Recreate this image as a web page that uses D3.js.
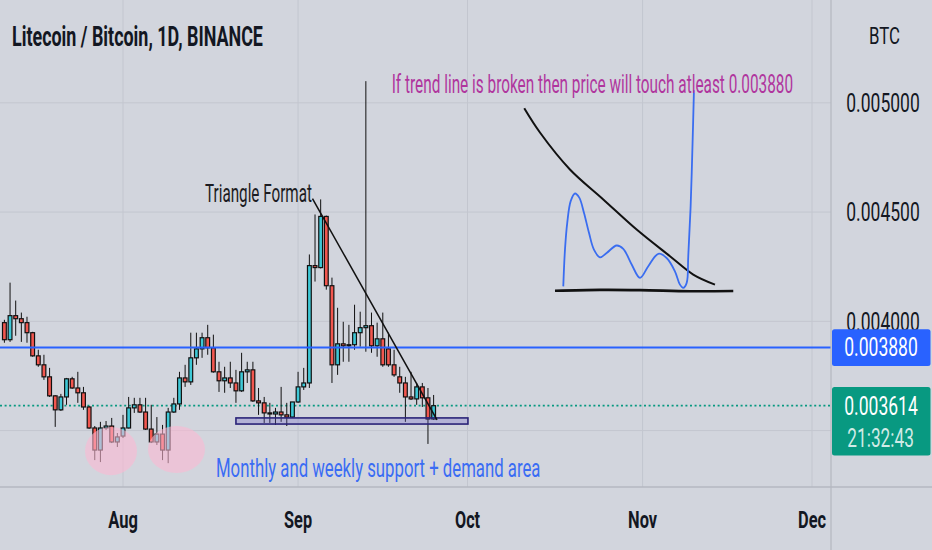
<!DOCTYPE html>
<html><head><meta charset="utf-8">
<script src="https://cdn.jsdelivr.net/npm/d3@7"></script>
<style>
body{margin:0;background:#d2d5dd;}
svg{display:block;font-family:Roboto,"Noto Sans",sans-serif;}
</style>
</head><body>
<svg id="chart" width="932" height="550"></svg>
<script>
// ---------- DATA ----------
const firstDay = "2021-07-11", lastDay = "2021-09-25";
const opens = [0.003994,0.003916,0.004026,0.004012,0.003994,0.003948,0.003842,0.003801,0.003746,0.003659,0.003595,0.003654,0.003737,0.003695,0.003673,0.003608,0.003512,0.003411,0.003512,0.003521,0.003448,
0.003475,0.003512,0.003604,0.003618,0.003585,0.003507,0.003448,0.003484,0.003411,0.003585,0.003622,0.003741,0.003723,0.003833,0.003874,0.003925,0.003879,0.003769,0.003728,0.003741,0.003718,0.003682,0.003769,0.003778,0.003636,0.003627,0.003581,0.003576,0.003585,0.003572,0.003562,
0.003631,0.003700,0.003718,0.004255,0.004246,0.004480,0.004163,0.003801,0.003897,0.003888,0.003893,0.003948,0.003971,0.003980,0.003888,0.003920,0.003874,0.003801,0.003746,0.003718,0.003654,0.003645,0.003700,0.003650,0.003553];
const highs = [0.004007,0.004177,0.004095,0.004040,0.004021,0.003952,0.003870,0.003847,0.003787,0.003662,0.003668,0.003741,0.003746,0.003769,0.003700,0.003613,0.003521,0.003540,0.003544,0.003558,0.003489,
0.003572,0.003654,0.003650,0.003650,0.003650,0.003618,0.003562,0.003526,0.003604,0.003650,0.003769,0.003801,0.003948,0.003948,0.003948,0.003984,0.003939,0.003815,0.003792,0.003815,0.003778,0.003856,0.003815,0.003815,0.003695,0.003654,0.003627,0.003604,0.003700,0.003627,0.003631,
0.003769,0.003787,0.004306,0.004489,0.004558,0.004484,0.004200,0.004062,0.003998,0.003984,0.004076,0.004044,0.005099,0.004040,0.003994,0.004040,0.003948,0.003870,0.003792,0.003746,0.003769,0.003718,0.003718,0.003695,0.003663];
const lows = [0.003902,0.003906,0.003934,0.003906,0.003902,0.003838,0.003792,0.003732,0.003654,0.003517,0.003590,0.003618,0.003691,0.003627,0.003595,0.003508,0.003365,0.003356,0.003503,0.003443,0.003425,
0.003466,0.003510,0.003581,0.003581,0.003503,0.003443,0.003434,0.003365,0.003351,0.003581,0.003595,0.003700,0.003709,0.003801,0.003833,0.003847,0.003765,0.003677,0.003673,0.003695,0.003627,0.003677,0.003718,0.003631,0.003572,0.003535,0.003535,0.003526,0.003540,0.003521,0.003558,
0.003627,0.003686,0.003695,0.004182,0.004242,0.004145,0.003718,0.003755,0.003815,0.003815,0.003870,0.003884,0.003861,0.003856,0.003838,0.003792,0.003792,0.003746,0.003673,0.003540,0.003640,0.003618,0.003608,0.003439,0.003549];
const closes = [0.003916,0.004026,0.004012,0.003994,0.003948,0.003842,0.003801,0.003746,0.003659,0.003595,0.003654,0.003737,0.003695,0.003673,0.003608,0.003512,0.003411,0.003512,0.003521,0.003448,0.003471,
0.003512,0.003604,0.003618,0.003585,0.003507,0.003448,0.003484,0.003411,0.003585,0.003622,0.003741,0.003723,0.003833,0.003874,0.003925,0.003879,0.003769,0.003728,0.003741,0.003718,0.003682,0.003769,0.003778,0.003636,0.003627,0.003581,0.003576,0.003585,0.003572,0.003562,0.003631,
0.003700,0.003718,0.004255,0.004246,0.004480,0.004163,0.003801,0.003897,0.003888,0.003893,0.003948,0.003971,0.003980,0.003888,0.003920,0.003801,0.003801,0.003755,0.003718,0.003654,0.003645,0.003700,0.003650,0.003553,0.003614];

const priceTicks = [0.0035, 0.0040, 0.0045, 0.0050];
const priceLabels = [0.0040, 0.0045, 0.0050];   // 0.003500 sits under the last-price box
const monthTicks = ["2021-08-01","2021-09-01","2021-10-01","2021-11-01","2021-12-01"];
const monthLabels = ["Aug","Sep","Oct","Nov","Dec"];
const levelPrice = 0.003880;
const lastPrice = 0.003614;
const countdown = "21:32:43";

// drawings anchored in [days after 2021-08-01, price]
const trendLine = [[33.55,0.004562],[55.6,0.003549]];
const sketchCurve = [[71.05,0.004975],[73.83,0.004864],[79.14,0.004695],[85.04,0.004558],[90.95,0.004420],[96.85,0.004298],[100.97,0.004214],[104.82,0.004168]];
const sketchWave = [[77.96,0.004160],[78.26,0.004328],[78.66,0.004451],[79.27,0.004550],[80.03,0.004585],[80.79,0.004566],[81.62,0.004497],[82.51,0.004405],[83.39,0.004328],[84.45,0.004293],[85.64,0.004313],[87.41,0.004347],[88.58,0.004332],[90.07,0.004260],[91.54,0.004199],[93.01,0.004252],[94.78,0.004309],[96.26,0.004290],[97.73,0.004229],[98.62,0.004168],[99.20,0.004153],[99.81,0.004176],[100.09,0.004298],[100.51,0.004527],[100.87,0.004833],[101.10,0.005058]];
const sketchBase = [[76.49,0.004140],[84.45,0.004144],[91.54,0.004143],[100.44,0.004138],[108.06,0.004139]];
const supportBox = {d0:20.0, d1:61.08, p0:0.003530, p1:0.003558};
const demandZones = [{d0:-6.73,d1:2.48,p0:0.003296,p1:0.003517},{d0:4.43,d1:14.52,p0:0.003306,p1:0.003521}];

// ---------- SETUP ----------
const W = 932, H = 550, plotR = 831, plotB = 487;
const svg = d3.select("#chart");
const parse = d3.utcParse("%Y-%m-%d");
const dates = d3.utcDay.range(parse(firstDay), d3.utcDay.offset(parse(lastDay),1));
const candles = dates.map((d,i)=>({date:d,o:opens[i],h:highs[i],l:lows[i],c:closes[i]}));

const x = d3.scaleUtc().domain([parse("2021-08-01"), parse("2021-12-01")]).range([123, 812]);
const y = d3.scaleLinear().domain([0.0035, 0.0050]).range([430.6, 102.8]);
const base = parse("2021-08-01").getTime();
const xd = d => x(new Date(base + d*864e5));

svg.append("rect").attr("width",W).attr("height",H).attr("fill","#d2d5dd");

// grid
const grid = svg.append("g");
grid.selectAll(".hg").data(priceTicks).join("line")
  .attr("x1",0).attr("x2",plotR).attr("y1",d=>y(d)).attr("y2",d=>y(d))
  .attr("stroke","#c3c6cf").attr("stroke-width",1);
grid.selectAll(".vg").data(monthTicks).join("line")
  .attr("x1",d=>x(parse(d))).attr("x2",d=>x(parse(d))).attr("y1",0).attr("y2",plotB)
  .attr("stroke","#c3c6cf").attr("stroke-width",1);

// last price dotted line (under candles)
svg.append("line").attr("x1",0).attr("x2",plotR).attr("y1",y(lastPrice)).attr("y2",y(lastPrice))
  .attr("stroke","#089981").attr("stroke-width",1.8).attr("stroke-dasharray","2,2.6");

// candles
const cg = svg.append("g");
const bw = 3.8;
cg.selectAll(".wick").data(candles).join("line")
  .attr("x1",d=>x(d.date)).attr("x2",d=>x(d.date))
  .attr("y1",d=>y(d.h)).attr("y2",d=>y(d.l))
  .attr("stroke","#111").attr("stroke-width",1);
cg.selectAll(".body").data(candles).join("rect")
  .attr("x",d=>x(d.date)-bw/2).attr("width",bw)
  .attr("y",d=>y(Math.max(d.o,d.c)))
  .attr("height",d=>Math.max(1,Math.abs(y(d.o)-y(d.c))))
  .attr("fill",d=>d.c>=d.o?"#3ec8d6":"#f2574f")
  .attr("stroke","#111").attr("stroke-width",1.2);

// level line
svg.append("line").attr("x1",0).attr("x2",plotR).attr("y1",y(levelPrice)).attr("y2",y(levelPrice))
  .attr("stroke","#2962ff").attr("stroke-width",2);

// support rectangle
svg.append("rect")
  .attr("x",xd(supportBox.d0)).attr("width",xd(supportBox.d1)-xd(supportBox.d0))
  .attr("y",y(supportBox.p1)).attr("height",y(supportBox.p0)-y(supportBox.p1))
  .attr("fill","rgba(110,100,200,0.3)").attr("stroke","#2a2378").attr("stroke-width",1.6);

// demand ellipses
svg.selectAll(".dz").data(demandZones).join("ellipse")
  .attr("cx",d=>(xd(d.d0)+xd(d.d1))/2).attr("cy",d=>(y(d.p0)+y(d.p1))/2)
  .attr("rx",d=>(xd(d.d1)-xd(d.d0))/2).attr("ry",d=>(y(d.p0)-y(d.p1))/2)
  .attr("fill","rgb(254,185,210)").attr("opacity",0.58);

// trend line
const ln = d3.line().x(d=>xd(d[0])).y(d=>y(d[1]));
svg.append("path").attr("d",ln(trendLine)).attr("fill","none").attr("stroke","#111").attr("stroke-width",1.5);

// sketches
const cl = d3.line().x(d=>xd(d[0])).y(d=>y(d[1])).curve(d3.curveCatmullRom.alpha(0.5));
svg.append("path").attr("d",cl(sketchCurve)).attr("fill","none").attr("stroke","#111").attr("stroke-width",2);
svg.append("path").attr("d",cl(sketchWave)).attr("fill","none").attr("stroke","#3a6df0").attr("stroke-width",1.8);
svg.append("path").attr("d",cl(sketchBase)).attr("fill","none").attr("stroke","#111").attr("stroke-width",2.6);

// texts: drawn at font size, then scaled horizontally to the measured width
function txt(s, xx, yy, fs, len, fill, weight, anchor){
  const t = svg.append("text").text(s).attr("x",0).attr("y",0)
    .attr("font-size",fs).attr("fill",fill).attr("font-weight",weight||"normal")
    .attr("text-anchor",anchor||"start");
  const nat = t.node().getComputedTextLength() || len;
  const sx = len / nat;
  t.attr("transform",`translate(${xx},${yy}) scale(${sx},1)`);
  return t;
}
txt("Litecoin / Bitcoin, 1D, BINANCE", 12, 45.7, 27, 251, "#131722", "bold");
txt("If trend line is broken then price will touch atleast 0.003880", 391.7, 92.7, 25, 401.6, "#b0369e");
txt("Triangle Format", 205, 202.3, 25.5, 107, "#1c1c22");
txt("Monthly and weekly support + demand area", 216, 477.3, 25, 324.7, "#3a6cf4");

// axes separators
svg.append("line").attr("x1",0).attr("x2",W).attr("y1",plotB).attr("y2",plotB).attr("stroke","#b4b7c0").attr("stroke-width",1.5);
svg.append("line").attr("x1",plotR).attr("x2",plotR).attr("y1",0).attr("y2",H).attr("stroke","#b4b7c0").attr("stroke-width",1.2);

// x labels
const monthWidths = [29.7,28,25,29,28];
monthTicks.forEach((m,i)=>{
  txt(monthLabels[i], x(parse(m)), 527.5, 24, monthWidths[i], "#131722", "bold", "middle");
});

// y labels
txt("BTC", 884.5, 44, 24, 31, "#131722", "normal", "middle");
const fmt = d3.format(".6f");
priceLabels.forEach(p=>{
  txt(fmt(p), 883, y(p)+9.3, 26, 73.5, "#131722", "normal", "middle");
});

// level box
const lb = y(levelPrice);
svg.append("rect").attr("x",832).attr("y",lb-18.4).attr("width",98.5).attr("height",36.8).attr("rx",2.5).attr("fill","#2962ff");
txt(fmt(levelPrice), 881, lb+8, 26, 73.5, "#ffffff", "normal", "middle");

// last price box
const lp = y(lastPrice);
svg.append("rect").attr("x",832).attr("y",lp-18.6).attr("width",98.5).attr("height",68.3).attr("rx",2.5).attr("fill","#089981");
txt(fmt(lastPrice), 881, lp+9.2, 26, 73.5, "#ffffff", "normal", "middle");
txt(countdown, 880.6, lp+40.9, 26, 66.6, "rgba(255,255,255,0.82)", "normal", "middle");
</script>
</body></html>
